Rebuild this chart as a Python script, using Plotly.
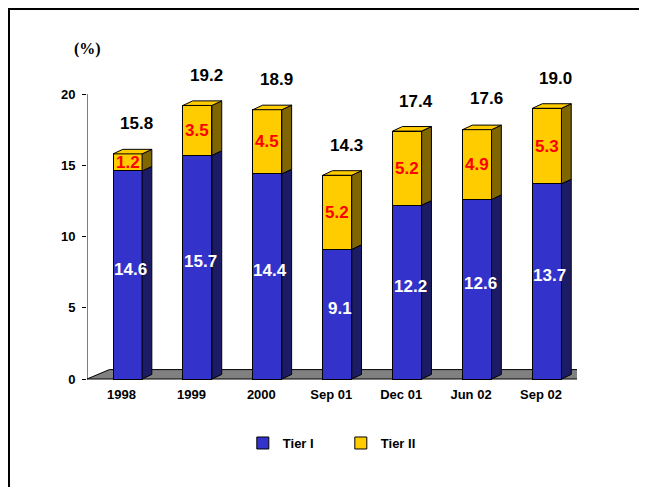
import plotly.graph_objects as go

# ------------------------------------------------------------------
# Dati
# ------------------------------------------------------------------
categories = ["1998", "1999", "2000", "Sep 01", "Dec 01", "Jun 02", "Sep 02"]
tier1 = [14.6, 15.7, 14.4, 9.1, 12.2, 12.6, 13.7]
tier2 = [1.2, 3.5, 4.5, 5.2, 5.2, 4.9, 5.3]
totals = [15.8, 19.2, 18.9, 14.3, 17.4, 17.6, 19.0]
y_ticks = [0, 5, 10, 15, 20]

# ------------------------------------------------------------------
# Stile / geometria pseudo-3D
# ------------------------------------------------------------------
BLUE, BLUE_SIDE = "#3333CC", "#1C1C66"
YELLOW, YELLOW_SIDE = "#FFCC00", "#806600"
FONT = "Liberation Sans, Arial, sans-serif"

bar_w = 0.415          # larghezza faccia frontale (unita' asse x)
dx, dy = 0.14, 0.32    # profondita' barre
fdx, fdy = 0.32, 0.66  # profondita' pavimento
x_min, x_max = -0.58, 6.43
y_min, y_max = -0.07, 22.39

pos = list(range(len(categories)))


def side_faces(bottoms, tops):
    xs, ys = [], []
    for x, b, t in zip(pos, bottoms, tops):
        xr = x + bar_w / 2
        xs += [xr, xr + dx, xr + dx, xr, xr, None]
        ys += [b, b + dy, t + dy, t, b, None]
    return xs, ys


def top_faces(tops):
    xs, ys = [], []
    for x, t in zip(pos, tops):
        xl, xr = x - bar_w / 2, x + bar_w / 2
        xs += [xl, xl + dx, xr + dx, xr, xl, None]
        ys += [t, t + dy, t + dy, t, t, None]
    return xs, ys


stack_top = [a + b for a, b in zip(tier1, tier2)]

fig = go.Figure()

# facce frontali
fig.add_trace(go.Bar(
    x=pos, y=tier1, width=bar_w, name="Tier I",
    marker=dict(color=BLUE, line=dict(color="black", width=1)),
    hoverinfo="skip",
))
fig.add_trace(go.Bar(
    x=pos, y=tier2, width=bar_w, name="Tier II",
    marker=dict(color=YELLOW, line=dict(color="black", width=1)),
    hoverinfo="skip",
))

# facce laterali e superiori
for (xs, ys), col in [
    (side_faces([0] * len(pos), tier1), BLUE_SIDE),
    (side_faces(tier1, stack_top), YELLOW_SIDE),
    (top_faces(stack_top), YELLOW),
]:
    fig.add_trace(go.Scatter(
        x=xs, y=ys, mode="lines", fill="toself", fillcolor=col,
        line=dict(color="black", width=1), showlegend=False, hoverinfo="skip",
    ))

# etichette
for x, a, b, tot in zip(pos, tier1, tier2, totals):
    fig.add_annotation(x=x, y=a / 2, text=f"{a:.1f}", showarrow=False, xshift=3,
                       yshift=6,
                       font=dict(family=FONT, size=17, color="white", weight="bold"))
    fig.add_annotation(x=x, y=a + b / 2, text=f"{b:.1f}", showarrow=False,
                       font=dict(family=FONT, size=17, color="#FF0000", weight="bold"))
    fig.add_annotation(x=x, y=tot, text=f"{tot:.1f}", showarrow=False,
                       xshift=9, yshift=30,
                       font=dict(family=FONT, size=17, color="black", weight="bold"))

fig.add_annotation(x=0, y=1.034, xref="paper", yref="paper", text="(%)",
                   showarrow=False, xanchor="center", yanchor="middle",
                   font=dict(family="Liberation Serif, Times New Roman, serif",
                             size=16, color="black", weight="bold"))

# pavimento, asse y, cornice
fig.add_shape(type="path", layer="below",
              path=(f"M {x_min},0 L {x_max},0 L {x_max + fdx},{fdy} "
                    f"L {x_min + fdx},{fdy} Z"),
              fillcolor="#808080", line=dict(color="black", width=1))
fig.add_shape(type="line", x0=x_min, x1=x_min, y0=0, y1=y_ticks[-1],
              line=dict(color="black", width=1))
fig.add_shape(type="rect", xref="paper", yref="paper",
              x0=-0.1592, x1=1.2, y0=-0.6, y1=1.159,
              line=dict(color="black", width=2))

fig.update_layout(
    width=647, height=487,
    margin=dict(l=79, r=78, t=52, b=115),
    barmode="stack",
    paper_bgcolor="white", plot_bgcolor="white",
    font=dict(family=FONT, size=13, color="black"),
    showlegend=True,
    legend=dict(orientation="h", x=0.318, y=-0.197, xanchor="left", yanchor="middle",
                font=dict(family=FONT, size=13, weight="bold"), entrywidth=53,
                traceorder="normal"),
    xaxis=dict(range=[x_min, x_max], tickvals=pos, ticktext=categories,
               showgrid=False, zeroline=False, showline=False, ticks="",
               ticklabelshift=-6, ticklabelstandoff=5,
               tickfont=dict(family=FONT, size=13, weight="bold")),
    yaxis=dict(range=[y_min, y_max], tickvals=y_ticks, showgrid=False,
               zeroline=False, showline=False, ticks="outside", ticklen=4,
               tickcolor="black", ticklabelstandoff=4,
               tickfont=dict(family=FONT, size=13, weight="bold")),
)

fig.write_html("out.html")
